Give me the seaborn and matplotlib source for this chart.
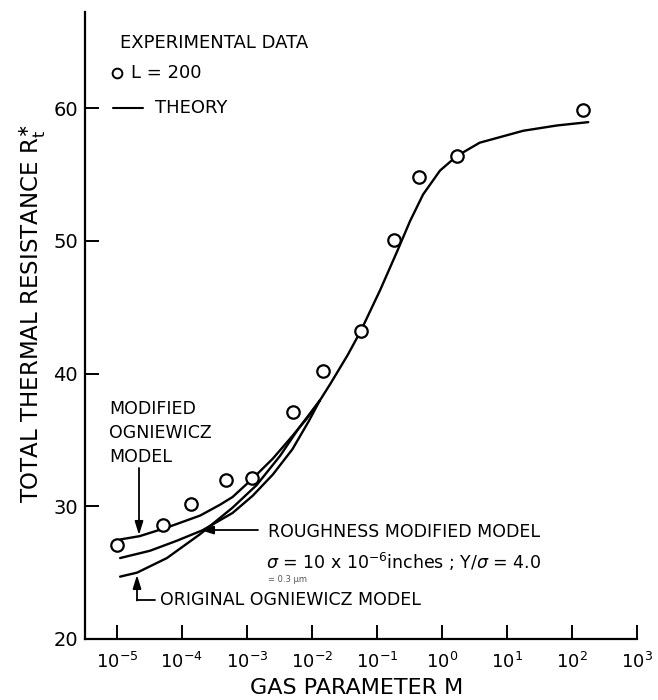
import matplotlib
matplotlib.use("Agg")
import matplotlib.pyplot as plt
import seaborn as sns
import pandas as pd
import numpy as np
from matplotlib.lines import Line2D

# ---------------- data ----------------
exp_M = [1.0e-5, 5.1e-5, 1.4e-4, 4.8e-4, 1.2e-3, 5.1e-3, 1.5e-2, 5.6e-2,
         0.18, 0.45, 1.7, 150.0]
exp_R = [27.1, 28.6, 30.2, 32.0, 32.1, 37.1, 40.2, 43.2, 50.1, 54.8, 56.4, 59.9]

# common upper branch of the theory curves (log10 M, R)
trunk_logM = [-1.88, -1.72, -1.45, -1.25, -0.95, -0.69, -0.49, -0.29, -0.03, 0.23,
              0.58, 1.25, 1.77, 2.25]
trunk_R = [37.96, 39.2, 41.4, 43.2, 46.3, 49.2, 51.5, 53.5, 55.3, 56.4,
           57.4, 58.3, 58.7, 58.95]

# modified Ogniewicz model (lower branch)
mod_logM = [-4.95, -4.65, -4.23, -3.72, -3.42, -3.22, -2.91, -2.6, -2.3, -2.08, -1.88]
mod_R = [27.5, 27.75, 28.4, 29.3, 30.1, 30.7, 32.1, 33.6, 35.3, 36.6, 37.96]

# roughness modified model (lower branch)
rough_logM = [-4.95, -4.49, -4.08, -3.68, -3.22, -2.91, -2.6, -2.3, -2.05, -1.88]
rough_R = [26.1, 26.65, 27.4, 28.2, 29.5, 30.8, 32.4, 34.3, 36.4, 37.96]

# original Ogniewicz model (lower branch)
orig_logM = [-4.95, -4.69, -4.23, -3.72, -3.22, -2.85, -2.49, -2.2, -1.88]
orig_R = [24.7, 25.0, 26.1, 27.9, 29.9, 31.6, 33.8, 35.9, 37.96]

xtick_exp = [-5, -4, -3, -2, -1, 0, 1, 2, 3]
yticks = [20, 30, 40, 50, 60]

# ---------------- figure ----------------
sns.set_style("ticks")
plt.rcParams["font.family"] = ["DejaVu Sans"]
plt.rcParams["mathtext.fontset"] = "dejavusans"
plt.rcParams["text.color"] = "black"
plt.rcParams["axes.labelcolor"] = "black"
plt.rcParams["xtick.color"] = "black"
plt.rcParams["ytick.color"] = "black"

W, H = 658, 700
fig = plt.figure(figsize=(W / 100, H / 100), dpi=100)
ax_l, ax_r, ax_t, ax_b = 85, 637, 12, 639
ax = fig.add_axes([ax_l / W, 1 - ax_b / H, (ax_r - ax_l) / W, (ax_b - ax_t) / H])

def curve_df(logm, r, name):
    return pd.DataFrame({"M": 10 ** np.asarray(logm, float), "R": r, "model": name})

curves = [
    curve_df(trunk_logM, trunk_R, "trunk"),
    curve_df(mod_logM, mod_R, "modified"),
    curve_df(rough_logM, rough_R, "rough"),
    curve_df(orig_logM, orig_R, "orig"),
]
for c in curves:
    sns.lineplot(data=c, x="M", y="R", ax=ax, color="black", lw=1.7,
                 sort=False, estimator=None, legend=False, zorder=2)
for line in ax.get_lines():
    line.set_solid_joinstyle("round")
    line.set_solid_capstyle("round")

exp_df = pd.DataFrame({"M": exp_M, "R": exp_R})
sns.scatterplot(data=exp_df, x="M", y="R", ax=ax, marker="o", s=80,
                facecolor="white", edgecolor="black", linewidth=1.6, zorder=3,
                legend=False)

ax.set_xscale("log")
ax.set_xlim(10 ** -5.49, 10 ** 3)
ax.set_ylim(20, 67.25)
ax.set_xticks([10.0 ** e for e in xtick_exp])
ax.set_xticklabels([r"$10^{%d}$" % e for e in xtick_exp])
ax.xaxis.set_minor_locator(matplotlib.ticker.NullLocator())
ax.set_yticks(yticks)
ax.set_yticklabels([str(v) for v in yticks])

for s in ["top", "right"]:
    ax.spines[s].set_visible(False)
for s in ["left", "bottom"]:
    ax.spines[s].set_linewidth(1.6)
    ax.spines[s].set_color("black")

ax.tick_params(axis="x", direction="in", length=10, width=1.4, labelsize=13, pad=9, colors="black")
ax.tick_params(axis="y", direction="in", length=10, width=1.4, labelsize=14, pad=5, colors="black")

ax.set_xlabel("GAS PARAMETER M", fontsize=16)
ax.xaxis.set_label_coords((357 - ax_l) / (ax_r - ax_l), (ax_b - 688) / (ax_b - ax_t))
ax.xaxis.label.set_va("center")
ax.set_ylabel(r"TOTAL THERMAL RESISTANCE $\mathregular{R_t^{\ast}}$", fontsize=16.5)
ax.yaxis.set_label_coords((33 - ax_l) / (ax_r - ax_l), (ax_b - 314) / (ax_b - ax_t))
ax.yaxis.label.set_va("center")

def fp(x, y):
    return (x / W, 1 - y / H)

# legend-like text block
fig.text(*fp(120, 43), "EXPERIMENTAL DATA", fontsize=13, va="center", ha="left")
fig.add_artist(Line2D([117 / W], [1 - 73 / H], marker="o", markersize=7,
                      markerfacecolor="white", markeredgecolor="black",
                      markeredgewidth=1.4, linestyle="none", transform=fig.transFigure))
fig.text(*fp(131, 73), "L = 200", fontsize=13, va="center", ha="left")
fig.add_artist(Line2D([113 / W, 143 / W], [1 - 108 / H, 1 - 108 / H], color="black",
                      lw=1.5, transform=fig.transFigure))
fig.text(*fp(155, 108), "THEORY", fontsize=13, va="center", ha="left")

# annotations
fig.text(*fp(109, 433), "MODIFIED\nOGNIEWICZ\nMODEL", fontsize=12.5, va="center",
         ha="left", linespacing=1.45)
arrow = dict(arrowstyle="-|>,head_length=0.8,head_width=0.25", color="black", lw=1.3,
             shrinkA=0, shrinkB=0)
ax.annotate("", xy=fp(139, 535), xytext=fp(139, 468), xycoords="figure fraction",
            textcoords="figure fraction", arrowprops=arrow)

fig.text(*fp(268, 532), "ROUGHNESS MODIFIED MODEL", fontsize=12.5, va="center", ha="left")
ax.annotate("", xy=fp(200, 530), xytext=fp(258, 530), xycoords="figure fraction",
            textcoords="figure fraction", arrowprops=arrow)
fig.text(*fp(266, 562), r"$\sigma$ = 10 x 10$^{-6}$inches ; Y/$\sigma$ = 4.0",
         fontsize=12.5, va="center", ha="left")
fig.text(*fp(268, 580), "= 0.3 μm", fontsize=6, va="center", ha="left", color="#555555")

fig.text(*fp(160, 600), "ORIGINAL OGNIEWICZ MODEL", fontsize=12.5, va="center", ha="left")
fig.add_artist(Line2D([137 / W, 155 / W], [1 - 600 / H, 1 - 600 / H], color="black",
                      lw=1.3, transform=fig.transFigure))
ax.annotate("", xy=fp(137, 575), xytext=fp(137, 600.5), xycoords="figure fraction",
            textcoords="figure fraction", arrowprops=arrow)

fig.savefig("out.png", dpi=100, facecolor="white")
